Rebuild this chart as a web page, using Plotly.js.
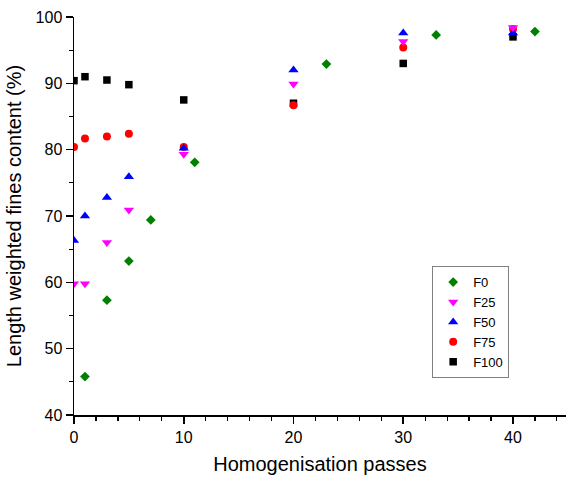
<!DOCTYPE html>
<html>
<head>
<meta charset="utf-8">
<script src="https://cdn.plot.ly/plotly-3.0.1.min.js"></script>
<style>html,body{margin:0;padding:0;background:#fff;}#chart{width:566px;height:479px;}</style>
</head>
<body>
<div id="chart"></div>
<script>
const xF0 = [1, 3, 5, 7, 11, 23, 33, 42];
const yF0 = [45.8, 57.3, 63.2, 69.4, 78.1, 92.9, 97.3, 97.8];
const xOther = [0, 1, 3, 5, 10, 20, 30, 40];
const yF25 = [59.8, 59.8, 66.0, 70.9, 79.3, 89.9, 96.3, 98.4];
const yF50 = [66.3, 70.0, 72.8, 75.9, 80.2, 92.0, 97.6, 97.6];
const yF75 = [80.4, 81.7, 82.0, 82.4, 80.4, 86.7, 95.4, 98.2];
const yF100 = [90.4, 91.0, 90.5, 89.8, 87.5, 87.0, 93.0, 97.0];

const mk = (name, x, y, symbol, color, size) => ({
  type: 'scatter', mode: 'markers', name: name, x: x, y: y, cliponaxis: true,
  marker: {symbol: symbol, color: color, size: size, line: {width: 0}}
});

const data = [
  mk('F100', xOther, yF100, 'square', '#000000', 7.5),
  mk('F75', xOther, yF75, 'circle', '#ff0000', 8),
  mk('F50', xOther, yF50, 'triangle-up', '#0000ff', 9),
  mk('F25', xOther, yF25, 'triangle-down', '#ff00ff', 9),
  mk('F0', xF0, yF0, 'diamond', '#008000', 7.5)
];

const fam = 'Liberation Sans, Arial, sans-serif';
const layout = {
  width: 566, height: 479,
  margin: {l: 74, r: 0, t: 17, b: 64},
  paper_bgcolor: '#fff', plot_bgcolor: '#fff',
  font: {family: fam, color: '#000'},
  showlegend: true,
  legend: {
    x: 0.728, y: 0.374, xanchor: 'left', yanchor: 'top',
    traceorder: 'reversed',
    bordercolor: '#808080', borderwidth: 1, bgcolor: '#fff',
    font: {family: fam, size: 13, color: '#000'},
    itemwidth: 30, tracegroupgap: 0
  },
  xaxis: {
    range: [0, 44.83], showgrid: false, zeroline: false,
    showline: true, linecolor: '#000', linewidth: 1.5,
    ticks: 'outside', ticklen: 7, tickwidth: 1.5, tickcolor: '#000',
    dtick: 10, tick0: 0,
    minor: {dtick: 2, ticks: 'outside', ticklen: 4, tickwidth: 1.2, tickcolor: '#000', showgrid: false},
    tickfont: {family: fam, size: 16, color: '#000'},
    title: {text: 'Homogenisation passes', font: {family: fam, size: 20, color: '#000'}, standoff: 12}
  },
  yaxis: {
    range: [40, 100], showgrid: false, zeroline: false,
    showline: true, linecolor: '#000', linewidth: 1.5,
    ticks: 'outside', ticklen: 7, tickwidth: 1.5, tickcolor: '#000',
    dtick: 10, tick0: 0,
    minor: {dtick: 5, ticks: 'outside', ticklen: 4, tickwidth: 1.2, tickcolor: '#000', showgrid: false},
    tickfont: {family: fam, size: 16, color: '#000'},
    title: {text: 'Length weighted fines content (%)', font: {family: fam, size: 20, color: '#000'}, standoff: 8}
  }
};

Plotly.newPlot('chart', data, layout, {displayModeBar: false, staticPlot: true});
</script>
</body>
</html>
